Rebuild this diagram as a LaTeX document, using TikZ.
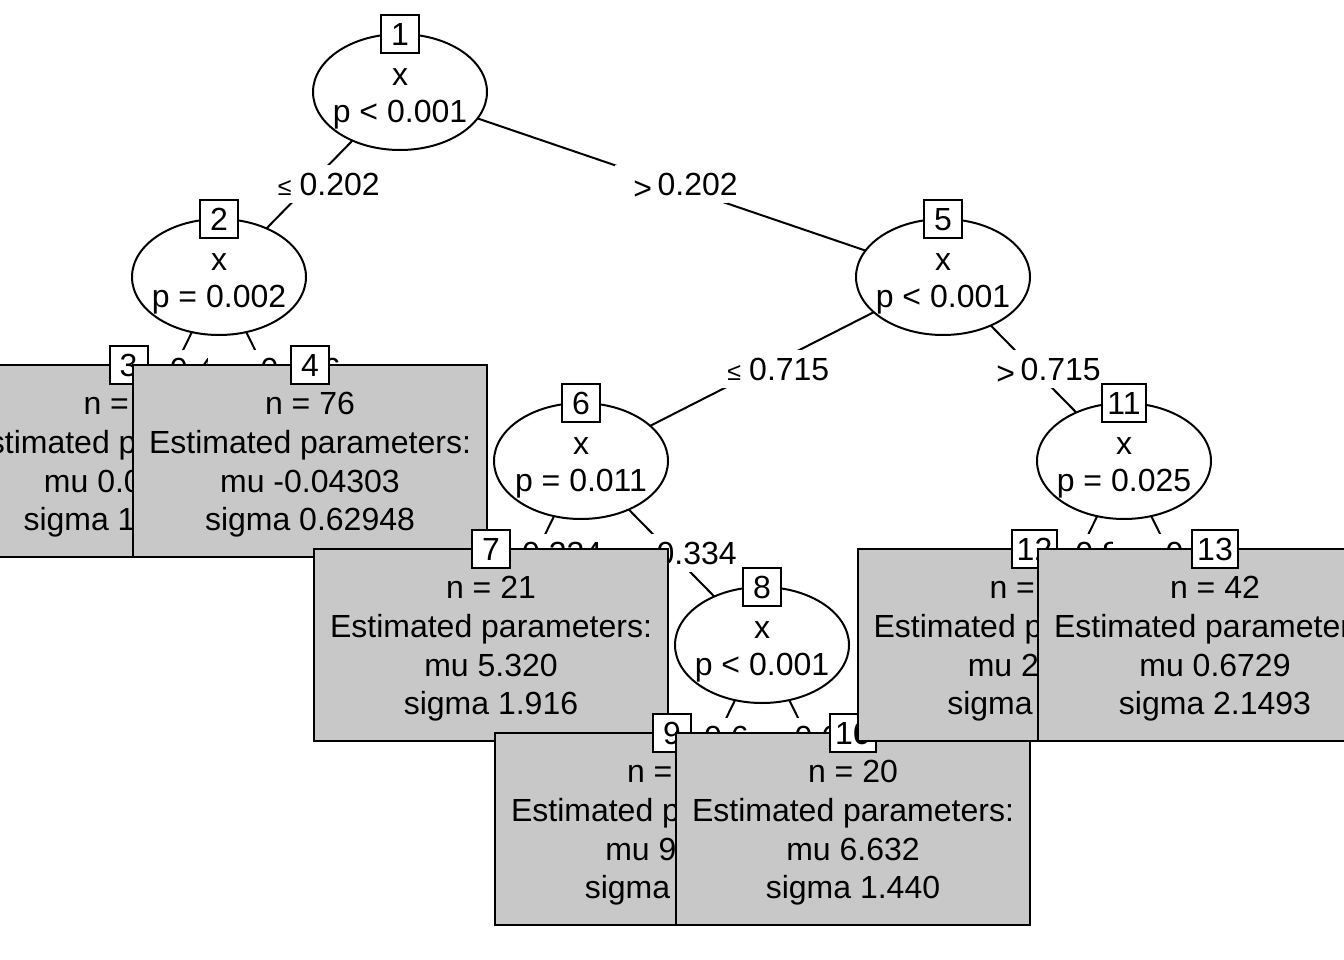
\documentclass[tikz,border=0pt]{standalone}
\usepackage{fontspec}
\setmainfont{Liberation Sans}
\usetikzlibrary{calc,shapes.geometric}
\definecolor{termgray}{RGB}{200,200,200}
\newcommand\lesym{\makebox[30pt][c]{\fontsize{25}{25}\selectfont ≤}}
\newcommand\gtsym{\makebox[30pt][c]{\raisebox{-3.5pt}{>}}}
% #1 name, #2 parent, #3 child, #4 text shift, #5 text
\newcommand\edgelab[5]{%
  \node[elabbg] (#1bg) at ($(#2)!0.5!(#3)$) {};
  \node[elab] (#1) at ($(#1bg.center)+(-43+#4,11.5)$) {#5};
}
\begin{document}
\begin{tikzpicture}[x=1pt,y=-1pt,
  font=\fontsize{32}{37.3}\selectfont,
  edge/.style={line width=2pt},
  elabbg/.style={fill=white, minimum width=113pt, minimum height=38pt, inner sep=0pt},
  elab/.style={anchor=base west, inner sep=0pt},
  splitnode/.style={ellipse, draw, line width=2pt, fill=white, minimum width=174pt, minimum height=116pt, inner sep=0pt},
  splittext/.style={align=center, inner sep=0pt},
  idbox/.style={draw, line width=2pt, fill=white, minimum width=38pt, minimum height=38pt, inner xsep=5pt, inner ysep=0pt, text height=23pt, text depth=0pt},
  termbox/.style={draw, line width=2pt, fill=termgray, minimum width=354pt, minimum height=192pt, inner sep=0pt},
  termtext/.style={align=center, inner sep=0pt, font=\fontsize{32}{38.67}\selectfont},
]
\useasboundingbox (0,0) rectangle (1344,960);
\fill[white] (0,0) rectangle (1344,960);
\clip (0,0) rectangle (1344,960);
% node centres
\coordinate (c1) at (400,92);
\coordinate (c2) at (219,277);
\coordinate (c5) at (943,277);
\coordinate (c6) at (581,461);
\coordinate (c11) at (1124,461);
\coordinate (c8) at (762,645);
\coordinate (t3) at (128.5,461);
\coordinate (t4) at (310,461);
\coordinate (t7) at (491,645);
\coordinate (t9) at (672,829);
\coordinate (t10) at (853,829);
\coordinate (t12) at (1034.5,645);
\coordinate (t13) at (1215,645);
% edges
\draw[edge] (c1) -- (c2);
\draw[edge] (c1) -- (c5);
\draw[edge] (c2) -- (t3);
\draw[edge] (c2) -- (t4);
\draw[edge] (c5) -- (c6);
\draw[edge] (c5) -- (c11);
\draw[edge] (c6) -- (t7);
\draw[edge] (c6) -- (c8);
\draw[edge] (c8) -- (t9);
\draw[edge] (c8) -- (t10);
\draw[edge] (c11) -- (t12);
\draw[edge] (c11) -- (t13);
% edge labels
\edgelab{e12}{c1}{c2}{3}{\lesym0.202}
\edgelab{e15}{c1}{c5}{-1}{\gtsym0.202}
\edgelab{e23}{c2}{t3}{9}{\lesym0.416}
\edgelab{e24}{c2}{t4}{9}{\gtsym0.416}
\edgelab{e56}{c5}{c6}{0}{\lesym0.715}
\edgelab{e511}{c5}{c11}{0}{\gtsym0.715}
\edgelab{e67}{c6}{t7}{-1}{\lesym0.334}
\edgelab{e68}{c6}{c8}{-2}{\gtsym0.334}
\edgelab{e89}{c8}{t9}{0}{\lesym0.645}
\edgelab{e810}{c8}{t10}{0}{\gtsym0.645}
\edgelab{e1112}{c11}{t12}{9}{\lesym0.841}
\edgelab{e1113}{c11}{t13}{9}{\gtsym0.841}
% inner nodes
\foreach \i/\p in {1/{p < 0.001},2/{p = 0.002},5/{p < 0.001},6/{p = 0.011},11/{p = 0.025},8/{p < 0.001}}{
  \node[splitnode] (n\i) at (c\i) {};
  \node[splittext] (s\i) at ($(c\i)+(0,6.6)$) {x\\\p};
  \node[idbox] (id\i) at ($(c\i)+(0,-58)$) {\i};
}
% terminal nodes
\foreach \i/\n/\m/\s in {3/68/0.02153/1.30742, 4/76/-0.04303/0.62948, 7/21/5.320/1.916, 9/33/9.217/1.532, 10/20/6.632/1.440, 12/40/2.384/1.873, 13/42/0.6729/2.1493}{
  \node[termbox] (b\i) at (t\i) {};
  \node[termtext] (x\i) at ($(t\i)+(0,3.9)$) {n = \n\\Estimated parameters:\\mu \m\\sigma \s};
  \node[idbox] (id\i) at ($(t\i)+(0,-96)$) {\i};
}
\end{tikzpicture}
\end{document}
